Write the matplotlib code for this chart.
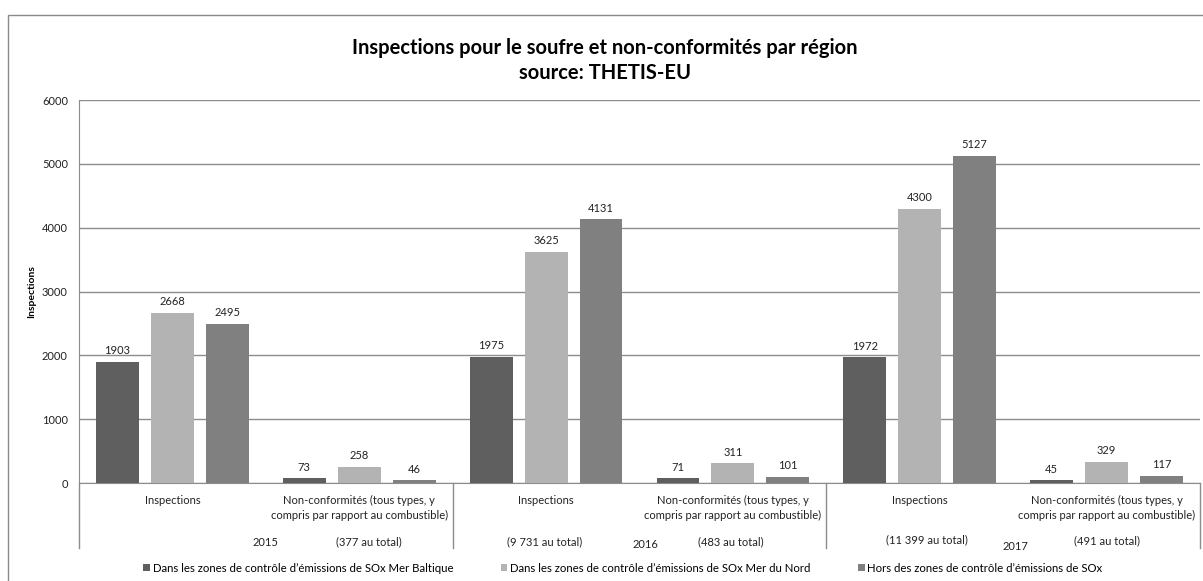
import matplotlib
matplotlib.use('Agg')
import matplotlib.pyplot as plt
from matplotlib.patches import Rectangle
import numpy as np

plt.rcParams['font.family'] = ['Lato', 'DejaVu Sans']

# data
categories = ['Inspections',
              'Non-conformités (tous types, y\ncompris par rapport au combustible)'] * 3
series_names = ['Dans les zones de contrôle d\u2019émissions de SOx Mer Baltique',
                'Dans les zones de contrôle d\u2019émissions de SOx Mer du Nord',
                'Hors des zones de contrôle d\u2019émissions de SOx']
baltique = [1903, 73, 1975, 71, 1972, 45]
mer_du_nord = [2668, 258, 3625, 311, 4300, 329]
hors_zones = [2495, 46, 4131, 101, 5127, 117]
years = ['2015', '2016', '2017']
totals = ['(377 au total)', '(9 731 au total)', '(483 au total)',
          '(11 399 au total)', '(491 au total)']

colors = ['#5f5f5f', '#b3b3b3', '#808080']
W, H = 1203, 581
fig = plt.figure(figsize=(W / 100, H / 100), dpi=100)
ax = fig.add_axes([79 / W, 1 - 483 / H, (1200 - 79) / W, 383 / H])

x = np.arange(len(categories))
width = 0.23
step = 0.294
handles = []
for k, (vals, col, name) in enumerate(zip([baltique, mer_du_nord, hors_zones], colors, series_names)):
    b = ax.bar(x + (k - 1) * step, vals, width, color=col, label=name, zorder=3)
    handles.append(b)
    for xi, v in zip(x + (k - 1) * step, vals):
        ax.annotate(str(v), (xi, v), xytext=(0, 4), textcoords='offset points',
                    ha='center', va='bottom', fontsize=8, color='#222222')

ax.set_xlim(-0.5, len(categories) - 0.5)
ax.set_ylim(0, 6000)
ax.set_yticks(range(0, 6001, 1000))
ax.yaxis.grid(True, color='#8c8c8c', lw=1, zorder=0)
ax.tick_params(axis='y', length=0, pad=8, labelsize=8, labelcolor='#222222')
ax.set_xticks(x)
ax.set_xticklabels(categories, fontsize=8, linespacing=1.4, color='#222222')
ax.tick_params(axis='x', length=0, pad=8.5)
for s in ['top', 'right']:
    ax.spines[s].set_visible(False)
ax.spines['left'].set_color('#8c8c8c')
ax.spines['bottom'].set_color('#8c8c8c')
ax.spines['left'].set_bounds(0, 6000)
ax.set_ylabel('Inspections', fontsize=7.5, fontweight='bold', labelpad=4)

# second level of the category axis
px = lambda p: -(p - 483) / 383
sep_y = px(548)
for xs in [-0.5, 1.5, 3.5, 5.5]:
    ax.plot([xs, xs], [0, sep_y], transform=ax.get_xaxis_transform(),
            color='#8c8c8c', lw=1, clip_on=False)

year_x = [0.50, 2.53, 4.51]
year_y = [px(542), px(545), px(546)]
for yx, yy, t in zip(year_x, year_y, years):
    ax.text(yx, yy, t, transform=ax.get_xaxis_transform(), ha='center', va='center',
            fontsize=8, color='#222222')
total_x = [1.05, 1.99, 2.99, 4.04, 5.0]
total_y = [px(542), px(542), px(542), px(540), px(541)]
for tx, ty, t in zip(total_x, total_y, totals):
    ax.text(tx, ty, t, transform=ax.get_xaxis_transform(), ha='center', va='center',
            fontsize=8, color='#222222')

fig.text(605 / W, 1 - 48 / H, 'Inspections pour le soufre et non-conformités par région',
         ha='center', va='center', fontsize=14.5, fontweight='bold')
fig.text(605 / W, 1 - 73 / H, 'source: THETIS-EU',
         ha='center', va='center', fontsize=14.5, fontweight='bold')

fig.legend(handles=handles, loc='center', bbox_to_anchor=(623 / W, 1 - 568 / H), ncol=3,
           frameon=False, fontsize=8.2, handlelength=0.55, handleheight=0.55,
           handletextpad=0.25, columnspacing=4.2, borderpad=0.1)

fig.patches.append(Rectangle((8 / W, -0.1), 1.5, 1 - 15 / H + 0.1, transform=fig.transFigure,
                             fill=False, edgecolor='#8a8a8a', lw=1))

fig.savefig('out.png', dpi=100)
